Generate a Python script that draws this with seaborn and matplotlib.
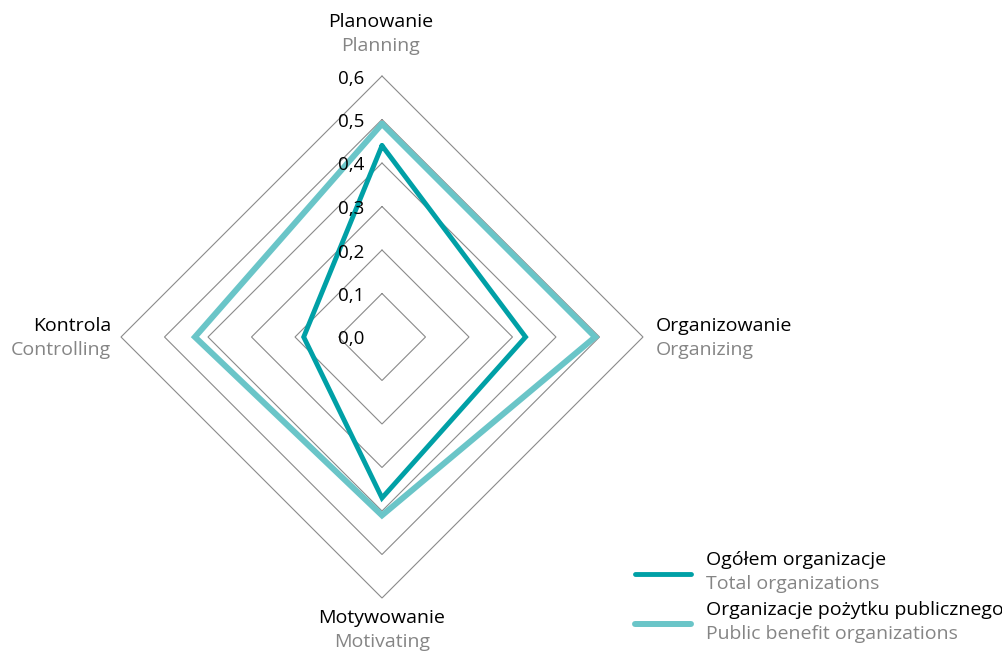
import numpy as np
import pandas as pd
import matplotlib
matplotlib.use("Agg")
import matplotlib.pyplot as plt
import seaborn as sns

# ---- data ----
axes_pl = ["Planowanie", "Organizowanie", "Motywowanie", "Kontrola"]
axes_en = ["Planning", "Organizing", "Motivating", "Controlling"]
series_pl = ["Ogółem organizacje", "Organizacje pożytku publicznego"]
series_en = ["Total organizations", "Public benefit organizations"]
total_vals = [0.44, 0.33, 0.37, 0.18]
public_vals = [0.49, 0.49, 0.41, 0.43]
levels = [0.1, 0.2, 0.3, 0.4, 0.5, 0.6]
tick_labels = ["0,0", "0,1", "0,2", "0,3", "0,4", "0,5", "0,6"]

dark = "#00a0a6"
light = "#6ac5c8"
grey_txt = "#858585"
grid_c = "#8a8a8a"

sns.set_style("white")
plt.rcParams["font.family"] = ["Open Sans", "DejaVu Sans"]

W, H = 1002, 651
fig = plt.figure(figsize=(W / 100, H / 100), dpi=100)
ax = fig.add_axes([0, 0, 1, 1])
S = 435.0  # px per unit
cx, cy = 382, 337

angles = np.deg2rad([90, 0, -90, 180])

def to_xy(vals):
    v = np.asarray(vals, dtype=float)
    x = v * np.cos(angles)
    y = v * np.sin(angles)
    return np.append(x, x[0]), np.append(y, y[0])

def px(x, y):
    return (x - cx) / S, (cy - y) / S

# grid
for lv in levels:
    gx, gy = to_xy([lv] * 4)
    ax.plot(gx, gy, color=grid_c, lw=0.8, zorder=1)

# series
frames = []
for name, vals in zip(series_pl, [total_vals, public_vals]):
    x, y = to_xy(vals)
    frames.append(pd.DataFrame({"x": x, "y": y, "series": name}))
df = pd.concat(frames, ignore_index=True)
sns.lineplot(data=df[df.series == series_pl[1]], x="x", y="y", sort=False,
             estimator=None, color=light, lw=4.3, ax=ax, legend=False, zorder=3)
sns.lineplot(data=df[df.series == series_pl[0]], x="x", y="y", sort=False,
             estimator=None, color=dark, lw=3.5, ax=ax, legend=False, zorder=4)
for l in ax.lines:
    l.set_solid_joinstyle("miter")
ax.set_xlim(-cx / S, (W - cx) / S)
ax.set_ylim(-(H - cy) / S, cy / S)
ax.set_axis_off()

# tick labels
for i, t in enumerate(tick_labels):
    lv = i / 10
    ax.text(-0.04, lv - 2.5 / S, t, ha="right", va="center", fontsize=13.5,
            color="black", zorder=5)

# axis labels
fs = 14
pos = [  # (x_px, y_px of first line, ha)
    (381, 22, "center"),
    (656, 326, "left"),
    (382, 618, "center"),
    (111, 326, "right"),
]
for (xp, yp, ha), pl, en in zip(pos, axes_pl, axes_en):
    x, y = px(xp, yp)
    ax.text(x, y, pl, ha=ha, va="center", fontsize=fs, color="black")
    x2, y2 = px(xp, yp + 24)
    ax.text(x2, y2, en, ha=ha, va="center", fontsize=fs, color=grey_txt)

# legend
for i, (c, lw) in enumerate([(dark, 3.5), (light, 4.3)]):
    ly = 574 + i * 50
    x0, y0 = px(635, ly)
    x1, _ = px(691, ly)
    ax.plot([x0, x1], [y0, y0], color=c, lw=lw, solid_capstyle="round")
    tx, ty = px(706, ly - 14)
    ax.text(tx, ty, series_pl[i], ha="left", va="center", fontsize=fs, color="black")
    tx, ty = px(706, ly + 10)
    ax.text(tx, ty, series_en[i], ha="left", va="center", fontsize=fs, color=grey_txt)

fig.savefig("out.png", dpi=100)
